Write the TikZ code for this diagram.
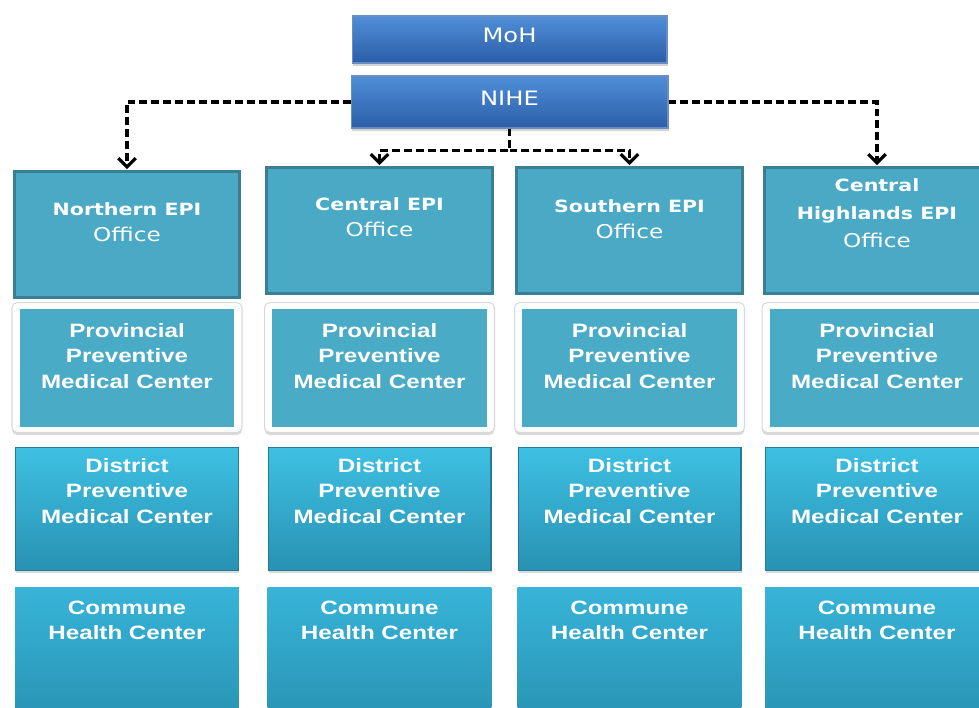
\documentclass[tikz,border=0pt]{standalone}
\usepackage{fontspec}
\newfontfamily\boxfont[FakeStretch=1.25]{Liberation Sans}
\newfontfamily\epifont[FakeStretch=1.22]{DejaVu Sans}
\usetikzlibrary{arrows.meta}
\usetikzlibrary{shadows}
\usetikzlibrary{positioning}

\definecolor{mohtop}{RGB}{80,142,216}
\definecolor{mohbot}{RGB}{44,94,168}
\definecolor{epifill}{RGB}{74,169,196}
\definecolor{epiedge}{RGB}{58,126,146}
\definecolor{provfill}{RGB}{74,171,198}
\definecolor{disttop}{RGB}{62,192,227}
\definecolor{distbot}{RGB}{40,146,178}
\definecolor{comtop}{RGB}{55,180,216}
\definecolor{combot}{RGB}{40,146,178}

\newcommand{\office}{{\fontsize{10.8}{14.8}\selectfont Office}}

\tikzset{
  topbox/.style={rectangle, top color=mohtop, bottom color=mohbot, draw=mohbot!70!white,
    line width=0.6pt, drop shadow={shadow xshift=0.5pt, shadow yshift=-1.5pt, opacity=0.35},
    text=white, font=\epifont\fontsize{11.3}{13}\selectfont, text depth=4.5pt},
  epibox/.style={rectangle, fill=epifill, draw=epiedge, line width=1.7pt,
    minimum width=4.52cm, minimum height=2.52cm, anchor=north},
  provframe/.style={rectangle, rounded corners=3pt, fill=white, draw=black!15, line width=0.6pt,
    minimum width=4.6cm, minimum height=2.6cm, anchor=north,
    drop shadow={shadow xshift=0pt, shadow yshift=-1.5pt, opacity=0.3}},
  provbox/.style={rectangle, fill=provfill, minimum width=4.3cm, minimum height=2.36cm},
  distbox/.style={rectangle, top color=disttop, bottom color=distbot, draw=distbot!85!black,
    line width=0.6pt, minimum width=4.46cm, minimum height=2.46cm, anchor=north,
    drop shadow={shadow xshift=0.5pt, shadow yshift=-1.5pt, opacity=0.3}},
  combox/.style={rectangle, top color=comtop, bottom color=combot,
    minimum width=4.48cm, minimum height=2.8cm, anchor=north},
  boxtext/.style={text=white, align=center, inner sep=0pt,
    font=\boxfont\bfseries\fontsize{11}{14.5}\selectfont},
  epitext/.style={text=white, align=center, inner sep=0pt,
    font=\epifont\fontsize{9.6}{14.8}\selectfont},
  link/.style={draw, line width=1.8pt, dash pattern=on 4.5pt off 2.3pt, shorten >=0.5pt,
    -{Straight Barb[length=5pt, width=10pt]}}
}

\begin{document}
\begin{tikzpicture}[x=0.02cm, y=-0.02cm]
  \clip (0,0) rectangle (979,707);

  \node[topbox, minimum width=6.3cm, minimum height=0.94cm] (moh) at (509.5,39.5) {MoH};
  \node[topbox, minimum width=6.34cm, minimum height=1.04cm] (nihe) at (509.5,102) {NIHE};

  % EPI offices
  \node[epibox] (nepi) at (127,170) {};
  \node[epibox] (cepi) at (379.5,166) {};
  \node[epibox] (sepi) at (629.5,166) {};
  \node[epibox] (hepi) at (877,166) {};
  \node[epitext, below=0.64cm of nepi.north] (nepi-t) {\textbf{Northern EPI}\\\office};
  \node[epitext, below=0.62cm of cepi.north] (cepi-t) {\textbf{Central EPI}\\\office};
  \node[epitext, below=0.66cm of sepi.north] (sepi-t) {\textbf{Southern EPI}\\\office};
  \node[epitext, below=0.24cm of hepi.north] (hepi-t) {\textbf{Central}\\[1.2pt]\textbf{Highlands EPI}\\[1.5pt]\office};

  % lower levels, one column per region
  \foreach \c/\cx in {a/127, b/379.5, c/629.5, d/877} {
    \node[provframe] (prov-\c) at (\cx,302) {};
    \node[provbox] (provin-\c) at (prov-\c.center) {};
    \node[boxtext, below=0.42cm of prov-\c.north] (prov-t-\c) {Provincial\\Preventive\\Medical Center};
    \node[distbox] (dist-\c) at (\cx,447) {};
    \node[boxtext, below=0.22cm of dist-\c.north] (dist-t-\c) {District\\Preventive\\Medical Center};
    \node[combox] (com-\c) at (\cx,587) {};
    \node[boxtext, below=0.27cm of com-\c.north] (com-t-\c) {Commune\\Health Center};
  }

  \draw[link] (nihe.west) -| (nepi.north);
  \draw[link] (nihe.east) -| (hepi.north);
  \coordinate[below=0.44cm of nihe.south] (split);
  \draw[link] (nihe.south) -- (split) -| (cepi.north);
  \draw[link] (split) -| (sepi.north);

\end{tikzpicture}
\end{document}
